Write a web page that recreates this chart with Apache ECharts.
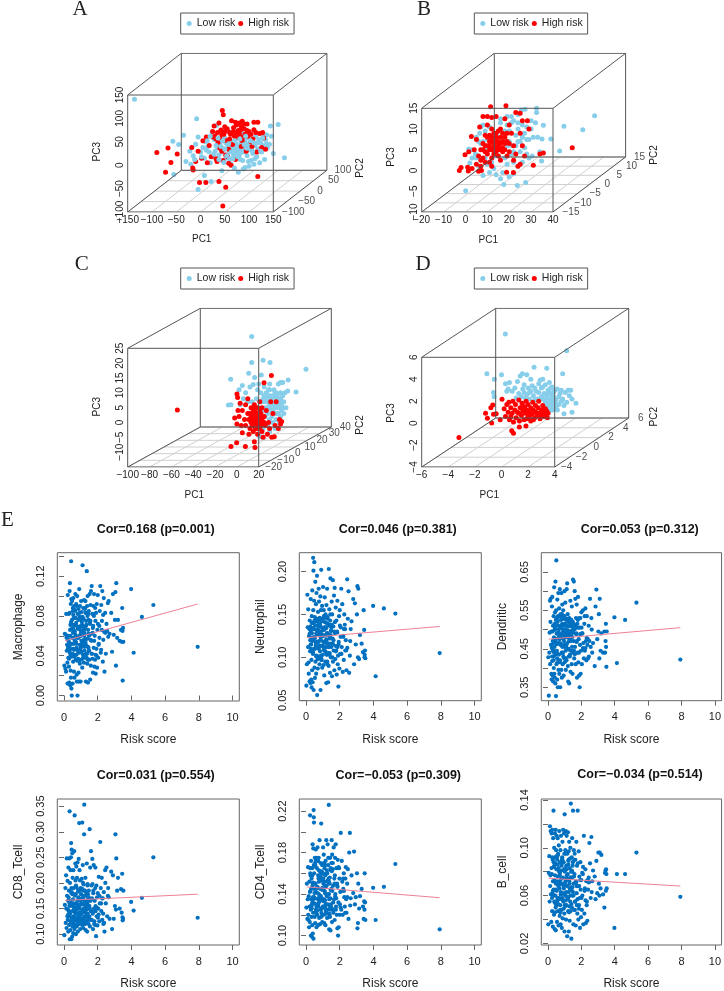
<!DOCTYPE html>
<html><head><meta charset="utf-8">
<style>html,body{margin:0;padding:0;background:#fff}#c{width:724px;height:991px}</style>
<script src="https://cdn.jsdelivr.net/npm/echarts@6/dist/echarts.min.js"></script>
</head><body><div id="c"></div>
<script>
// ---------- risk score (shared by all six lower panels)
const riskScore=[
.02,.05,.08,.1,.12,.13,.15,.16,.18,.2,
.21,.22,.24,.25,.26,.28,.29,.3,.31,.32,
.33,.34,.35,.36,.37,.38,.39,.4,.41,.42,
.43,.44,.45,.46,.47,.48,.49,.5,.51,.52,
.53,.54,.55,.56,.58,.59,.6,.61,.62,.63,
.65,.66,.67,.68,.7,.71,.72,.73,.75,.76,
.77,.78,.8,.81,.82,.83,.85,.86,.87,.88,
.9,.91,.92,.94,.95,.96,.98,.99,1.0,1.01,
1.03,1.04,1.05,1.07,1.08,1.1,1.11,1.12,1.14,1.15,
1.16,1.18,1.19,1.2,1.21,1.23,1.24,1.25,1.27,1.28,
1.3,1.31,1.33,1.34,1.35,1.37,1.38,1.4,1.42,1.43,
1.45,1.47,1.48,1.5,1.52,1.54,1.55,1.57,1.59,1.6,
1.62,1.64,1.66,1.68,1.7,1.72,1.74,1.76,1.78,1.8,
1.82,1.84,1.86,1.88,1.9,1.92,1.94,1.96,1.98,2.0,
2.03,2.06,2.09,2.12,2.15,2.18,2.21,2.24,2.27,2.3,
2.33,2.36,2.4,2.44,2.48,2.52,2.56,2.6,2.65,2.7,
2.8,2.85,2.9,2.95,3.02,3.05,3.08,3.1,3.15,3.2,
3.3,3.38,3.42,3.45,3.47,3.48,3.5,3.52,3.98,4.13,
4.62,5.3,7.93,
.23,.27,.34,.41,.44,.52,.57,.64,.69,.74,
.79,.84,.89,.93,.97,1.02,1.06,1.09,1.13,1.17,
1.22,1.26,1.29,1.32,1.36,1.39,1.41,1.44,1.46,1.49,
.3,.38,.46,.55,.6,.68,.72,.78,.86,.92,
1.0,1.04,1.1,1.18,1.24,1.3,1.35,1.42,1.5,1.56,
1.63,1.71,1.79,1.85,1.93,2.01,2.1,2.2,2.32,2.45,
.25,.33,.42,.5,.58,.66,.74,.82,.9,.98,
1.06,1.14,1.22,1.28,1.38,1.46,1.53,1.61,1.69,1.77,
.37,.47,.54,.62,.7,.76,.84,.94,1.02,1.12,
1.2,1.34,1.44,1.58,1.73,1.87,2.05,2.25,2.38,2.62];
const macrophage=[
.030,.062,.027,.061,.024,.082,.058,.045,.051,.033,
.012,.101,.060,.049,.055,.082,.029,.037,.013,.045,
.105,.083,.113,.066,.010,.071,.025,.092,.018,.135,
.097,.007,.052,.000,.076,.095,.042,.058,.012,.088,
.063,.034,.098,.047,.078,.024,.090,.070,.018,.055,
.041,.085,.102,.061,.036,.071,.092,.052,.021,.014,
.046,.100,.000,.082,.067,.037,.076,.023,.058,.014,
.107,.043,.079,.032,.090,.061,.014,.048,.070,.095,
.055,.036,.084,.071,.028,.131,.064,.041,.088,.052,
.077,.033,.096,.060,.045,.087,.067,.039,.095,.053,
.014,.075,.050,.042,.125,.090,.032,.100,.013,.066,
.048,.085,.060,.036,.102,.072,.016,.091,.030,.105,
.055,.110,.042,.082,.063,.023,.090,.048,.102,.029,
.060,.036,.075,.022,.083,.047,.092,.028,.066,.101,
.038,.052,.070,.085,.110,.043,.091,.066,.105,.034,
.056,.098,.024,.083,.042,.072,.065,.093,.095,.062,
.083,.044,.102,.061,.076,.104,.030,.113,.058,.076,
.055,.066,.054,.088,.065,.015,.068,.054,.107,.043,
.079,.091,.049,
.047,.056,.043,.072,.039,.085,.052,.064,.078,.041,
.058,.069,.035,.083,.047,.060,.074,.054,.038,.066,
.049,.088,.057,.071,.042,.080,.036,.062,.076,.045,
.053,.040,.067,.081,.046,.059,.073,.035,.087,.051,
.064,.044,.079,.056,.038,.070,.083,.049,.061,.075,
.042,.068,.055,.088,.040,.072,.058,.046,.081,.063,
.038,.050,.074,.042,.066,.086,.048,.059,.036,.078,
.052,.069,.041,.083,.057,.045,.073,.062,.037,.080,
.060,.047,.071,.039,.054,.090,.044,.067,.076,.050,
.063,.038,.082,.056,.070,.041,.051,.075,.064,.059];
const neutrophil=[
.067,.092,.173,.135,.112,.156,.094,.081,.125,.133,
.072,.143,.107,.120,.070,.168,.131,.115,.074,.097,
.065,.148,.128,.085,.178,.119,.071,.140,.104,.216,
.155,.201,.062,.133,.110,.166,.211,.088,.124,.147,
.076,.137,.188,.095,.114,.162,.081,.128,.175,.102,
.195,.056,.142,.118,.087,.153,.132,.099,.180,.110,
.165,.126,.092,.146,.138,.107,.171,.062,.121,.155,
.202,.097,.135,.113,.160,.088,.125,.145,.103,.182,
.118,.091,.155,.132,.079,.108,.170,.141,.095,.126,
.150,.112,.134,.070,.161,.103,.128,.180,.092,.145,
.116,.071,.138,.090,.203,.125,.156,.105,.082,.143,
.192,.100,.131,.112,.165,.078,.150,.122,.190,.095,
.136,.108,.172,.085,.181,.128,.098,.158,.113,.143,
.080,.130,.166,.092,.102,.066,.118,.148,.087,.155,
.104,.135,.180,.112,.162,.083,.125,.097,.150,.138,
.108,.120,.085,.191,.145,.177,.082,.102,.133,.142,
.168,.092,.163,.115,.150,.183,.100,.180,.098,.126,
.116,.106,.155,.132,.100,.103,.108,.099,.160,.078,
.157,.151,.105,
.128,.115,.140,.106,.133,.122,.111,.145,.098,.136,
.119,.130,.102,.142,.113,.125,.148,.108,.135,.117,
.140,.095,.128,.112,.137,.104,.122,.150,.116,.131,
.110,.134,.120,.143,.101,.127,.138,.114,.124,.097,
.132,.118,.146,.106,.128,.139,.112,.123,.135,.100,
.120,.141,.108,.129,.115,.137,.104,.124,.133,.111,
.136,.121,.105,.143,.117,.128,.112,.139,.099,.125,
.109,.134,.119,.147,.103,.126,.138,.115,.130,.107,
.123,.140,.110,.132,.118,.101,.144,.127,.113,.135,
.121,.105,.138,.116,.129,.112,.124,.133,.108,.119];
const dendritic=[
.428,.328,.440,.492,.575,.410,.520,.580,.460,.385,
.495,.370,.560,.430,.585,.380,.470,.510,.365,.445,
.420,.535,.400,.480,.610,.385,.455,.500,.375,.545,
.505,.360,.625,.435,.475,.327,.550,.680,.410,.490,
.445,.530,.370,.578,.415,.350,.510,.465,.595,.395,
.500,.435,.555,.385,.475,.605,.420,.350,.540,.460,
.485,.525,.395,.595,.440,.375,.515,.565,.455,.410,
.490,.550,.430,.380,.510,.470,.535,.600,.415,.460,
.500,.570,.445,.395,.525,.480,.420,.605,.510,.620,
.465,.540,.405,.495,.365,.520,.450,.490,.360,.530,
.475,.430,.510,.575,.390,.495,.445,.525,.410,.560,
.480,.385,.515,.630,.440,.470,.625,.425,.500,.600,
.455,.580,.410,.530,.490,.565,.375,.515,.440,.585,
.415,.475,.380,.505,.350,.460,.530,.385,.445,.545,
.410,.490,.550,.465,.425,.515,.445,.555,.470,.420,
.535,.460,.425,.510,.470,.580,.455,.530,.440,.465,
.405,.560,.604,.475,.495,.540,.425,.580,.445,.490,
.440,.495,.440,.470,.515,.455,.403,.495,.532,.413,
.525,.570,.422,
.452,.495,.430,.515,.470,.440,.530,.485,.420,.505,
.462,.540,.438,.500,.478,.515,.425,.490,.528,.450,
.508,.470,.495,.435,.525,.485,.510,.455,.498,.520,
.445,.512,.475,.425,.535,.490,.465,.505,.440,.528,
.482,.515,.458,.498,.430,.520,.472,.508,.492,.445,
.512,.468,.525,.440,.488,.505,.452,.535,.478,.430,
.418,.465,.500,.440,.520,.478,.535,.458,.495,.425,
.510,.485,.448,.522,.470,.498,.515,.436,.488,.505,
.440,.525,.462,.492,.415,.510,.478,.532,.455,.498,
.482,.516,.445,.505,.470,.530,.490,.452,.476,.500];
const cd8Tcell=[
.098,.157,.190,.122,.215,.150,.112,.248,.175,.135,
.204,.128,.165,.105,.230,.145,.185,.118,.248,.155,
.340,.090,.200,.140,.165,.108,.225,.125,.250,.278,
.090,.180,.265,.130,.155,.095,.258,.115,.210,.145,
.168,.102,.225,.135,.190,.120,.262,.150,.110,.332,
.175,.128,.238,.142,.100,.195,.160,.232,.115,.148,
.210,.125,.240,.158,.105,.183,.135,.170,.247,.120,
.317,.150,.225,.130,.205,.110,.165,.190,.138,.178,
.125,.160,.208,.118,.318,.145,.235,.175,.112,.150,
.197,.130,.295,.353,.165,.120,.185,.143,.210,.108,
.155,.125,.180,.140,.238,.105,.160,.198,.132,.172,
.120,.185,.150,.135,.305,.115,.230,.165,.145,.262,
.195,.128,.170,.247,.140,.110,.185,.235,.150,.125,
.165,.118,.230,.145,.096,.195,.135,.172,.117,.180,
.150,.212,.125,.160,.280,.190,.145,.210,.128,.170,
.120,.182,.105,.225,.160,.230,.135,.175,.172,.130,
.222,.110,.215,.130,.155,.295,.148,.248,.185,.210,
.150,.188,.142,.218,.133,.127,.130,.185,.163,.146,
.171,.250,.132,
.148,.172,.135,.160,.190,.125,.155,.143,.178,.130,
.165,.120,.152,.185,.138,.168,.128,.146,.200,.158,
.134,.175,.122,.150,.162,.195,.140,.128,.170,.155,
.145,.125,.182,.160,.135,.205,.150,.118,.172,.142,
.158,.130,.188,.148,.125,.165,.138,.178,.155,.128,
.168,.143,.120,.190,.152,.132,.175,.160,.140,.200,
.138,.160,.122,.178,.148,.130,.192,.155,.127,.168,
.142,.185,.120,.158,.135,.172,.150,.128,.198,.145,
.163,.130,.178,.118,.152,.140,.187,.125,.158,.170,
.135,.148,.165,.128,.180,.155,.138,.170,.122,.190];
const cd4Tcell=[
.127,.150,.116,.135,.166,.120,.115,.138,.108,.152,
.128,.113,.216,.160,.143,.125,.100,.172,.135,.118,
.155,.099,.130,.165,.110,.148,.188,.102,.137,.122,
.184,.097,.221,.214,.209,.160,.131,.145,.118,.175,
.136,.112,.168,.150,.183,.125,.142,.175,.108,.130,
.165,.120,.147,.185,.135,.110,.158,.128,.175,.140,
.152,.117,.192,.133,.162,.111,.145,.170,.125,.138,
.208,.122,.153,.136,.168,.113,.145,.160,.128,.185,
.150,.120,.178,.135,.112,.165,.143,.127,.158,.110,
.172,.130,.148,.192,.122,.160,.138,.117,.152,.188,
.125,.168,.140,.155,.226,.106,.135,.150,.118,.175,
.105,.163,.130,.145,.192,.113,.178,.125,.170,.148,
.122,.185,.135,.155,.115,.175,.140,.188,.128,.165,
.120,.150,.107,.173,.100,.132,.108,.165,.155,.120,
.142,.199,.125,.172,.152,.120,.145,.160,.137,.128,
.155,.166,.122,.150,.164,.116,.180,.199,.136,.158,
.141,.181,.130,.137,.160,.107,.112,.150,.126,.138,
.145,.128,.116,.133,.125,.160,.132,.115,.146,.115,
.147,.169,.106,
.142,.158,.126,.150,.135,.167,.122,.146,.172,.131,
.155,.138,.118,.162,.144,.128,.170,.152,.134,.124,
.148,.160,.130,.175,.140,.120,.156,.136,.165,.127,
.145,.132,.168,.150,.123,.141,.172,.137,.157,.126,
.160,.133,.147,.121,.163,.139,.152,.128,.170,.143,
.125,.158,.136,.148,.166,.130,.143,.155,.122,.137,
.165,.129,.151,.141,.172,.124,.155,.135,.160,.146,
.127,.168,.139,.153,.121,.144,.162,.132,.150,.125,
.158,.137,.170,.128,.146,.163,.134,.119,.155,.141,
.130,.152,.125,.164,.138,.147,.127,.143,.135,.129];
const bCell=[
.036,.079,.093,.055,.118,.068,.077,.114,.061,.038,
.083,.112,.058,.047,.115,.090,.034,.072,.108,.060,
.131,.065,.084,.044,.100,.055,.073,.032,.092,.112,
.046,.087,.060,.115,.031,.070,.098,.052,.082,.110,
.064,.038,.090,.056,.108,.076,.047,.095,.068,.035,
.102,.058,.080,.114,.043,.072,.088,.052,.098,.036,
.063,.110,.048,.085,.070,.033,.092,.058,.105,.041,
.075,.115,.055,.088,.066,.112,.045,.030,.128,.080,
.060,.098,.072,.114,.040,.085,.052,.110,.068,.026,
.095,.057,.078,.113,.047,.090,.063,.030,.105,.072,
.039,.083,.055,.100,.066,.137,.075,.024,.092,.050,
.108,.060,.085,.131,.036,.070,.098,.048,.078,.095,
.055,.090,.035,.072,.105,.062,.085,.045,.131,.068,
.040,.097,.052,.076,.058,.033,.088,.065,.042,.073,
.048,.060,.078,.036,.110,.045,.066,.082,.037,.072,
.055,.039,.065,.075,.104,.087,.058,.109,.072,.081,
.076,.057,.089,.062,.096,.070,.060,.096,.066,.094,
.061,.050,.079,.081,.064,.082,.078,.066,.033,.078,
.078,.096,.059,
.078,.062,.088,.054,.071,.093,.058,.083,.066,.048,
.074,.090,.056,.068,.082,.051,.095,.063,.077,.059,
.086,.046,.070,.091,.060,.080,.053,.075,.067,.088,
.064,.085,.050,.072,.094,.057,.079,.061,.090,.069,
.052,.083,.074,.059,.097,.066,.047,.081,.063,.076,
.055,.068,.087,.049,.073,.058,.084,.064,.052,.071,
.092,.060,.077,.054,.086,.069,.046,.081,.062,.095,
.056,.074,.089,.051,.067,.080,.060,.048,.071,.057,
.084,.065,.092,.053,.077,.061,.087,.049,.070,.082,
.058,.075,.064,.090,.052,.068,.079,.056,.073,.063];
// fit lines: value at the smallest and at the largest risk score
const fitEnds=[.05,7.93];
const fitMacrophage=[.055,.092], fitNeutrophil=[.123,.136], fitDendritic=[.475,.505];
const fitCd8=[.166,.178], fitCd4=[.147,.1365], fitB=[.0745,.068];
// axis ticks
const riskTicks=[0,2,4,6,8,10];
const ticksMac=[0,.02,.04,.06,.08,.10,.12,.14], labelsMac=[0,.04,.08,.12];
const ticksNeu=[.05,.10,.15,.20];
const ticksDen=[.35,.40,.45,.50,.55,.60,.65], labelsDen=[.35,.45,.55,.65];
const ticksCd8=[.10,.15,.20,.25,.30,.35];
const ticksCd4=[.10,.12,.14,.16,.18,.20,.22], labelsCd4=[.10,.14,.18,.22];
const ticksB=[.02,.04,.06,.08,.10,.12,.14], labelsB=[.02,.06,.10,.14];

// ---------- PCA panels: [PC1, PC3] as seen projected on the front face scale
const lowA=[[-136,141],[-8,99],[160,87],[144,84],[173,16],[-57,51],[-35,64],[-55,-20],[-5,-52],[22,-35],[8,-22],[150,25],[-45,44],[-22,30],[-15,20],[-30,8],[-20,2],[0,28],[8,15],[15,40],[20,5],[28,55],[24,70],[33,85],[38,22],[40,48],[44,-12],[48,35],[50,58],[52,15],[56,42],[58,72],[60,30],[62,3],[66,50],[68,22],[70,38],[72,60],[75,45],[78,-15],[80,32],[82,12],[84,50],[86,68],[88,28],[90,40],[92,-5],[95,58],[96,20],[98,45],[100,33],[102,65],[104,10],[106,52],[108,25],[110,2],[112,42],[114,62],[116,18],[118,35],[120,55],[122,5],[124,48],[126,28],[128,68],[130,42],[132,12],[134,55],[136,65],[138,38],[142,45],[146,62],[30,30],[35,38],[45,28],[55,22],[65,35],[75,25],[85,35],[95,30],[52,48],[62,40],[72,30],[82,42],[92,50],[105,38],[25,18],[10,50],[5,38],[-5,60],[-10,45],[60,48],[70,44],[80,22],[78,38]];
// low risk points that lie over the high risk points in panel A
const lowATop=[[42,40],[46,52],[50,34],[54,20],[58,46],[63,28],[67,14],[71,52],[74,36],[77,18],[81,56],[84,28],[87,10],[90,44],[93,62],[96,36],[99,8],[103,52],[107,30],[110,48],[36,58],[32,42],[28,24],[38,12],[48,6],[60,14],[70,-6],[88,-8],[100,-2],[112,14],[18,28],[14,52],[2,18],[-12,12],[118,48],[124,30],[128,58],[136,46],[20,62],[12,32]];
const highA=[[45,117],[47,108],[-90,27],[-67,37],[-48,24],[-61,6],[-72,-15],[-2,-37],[11,-37],[38,-35],[52,-47],[46,-87],[118,-24],[-15,-10],[-16,-6],[63,0],[-10,8],[-5,30],[-18,38],[2,15],[5,52],[12,60],[14,5],[18,42],[22,18],[25,72],[28,84],[30,62],[34,8],[36,48],[38,90],[42,75],[44,30],[46,10],[48,66],[50,82],[54,52],[56,18],[58,4],[60,70],[64,95],[66,44],[68,80],[72,12],[74,86],[76,58],[78,74],[80,90],[84,40],[86,94],[88,60],[90,78],[94,30],[96,88],[100,72],[104,50],[106,40],[110,92],[114,70],[118,92],[122,68],[126,38],[130,58],[134,34],[128,70],[116,28],[108,56],[98,62],[70,62],[52,22],[40,36],[32,14],[58,34],[82,74],[92,66],
[55,78],[62,66],[68,72],[74,70],[80,66],[84,82],[90,88],[96,74],[72,92],[76,88],[44,66],[50,72],[35,70],[32,56],[26,60],[104,66],[110,76],[40,58],[60,56],[86,52]];
const lowB=[[59,13.2],[45,10.7],[53.6,9.8],[39,7.6],[43,4.7],[34.8,2.3],[.1,-4.9],[27.5,-2.9],[23.7,-3.6],[17.5,-3.4],[32.5,15],[32.5,14],[27.2,14.8],[25.5,14.6],[35.6,10.9],[30,12],[32,11.5],[31,8],[29,7.5],[33,8],[35,7.6],[34,4.5],[30.5,3.5],[28,4],[26,2],[24,1],[22,-.8],[20,-1.5],[16,-2],[14,-1],[11,-.5],[8,-1.2],[6,1],[2,1.8],[3,5],[1.5,5.2],[4.5,4],[5,8],[6.5,9],[7,6.5],[8,11],[9,3],[10,7.5],[11,10.5],[12,2],[13,6],[14,9],[15,3.5],[16,11.5],[17,5],[18,7.5],[19,1.5],[20,9.5],[21,4],[22,12],[23,6],[24,10],[25,4.5],[26,8],[27,5.5],[28,10.5],[29,3],[24,13.5],[21,13],[19,11],[13,3.5],[15,5.5],[17,7],[19,6],[16,8],[12,8],[10,5],[8,7],[14,6.5],[22,2],[26,11],
[18,9.5],[20,7],[23,8.5],[25,7],[27,9],[21,11.5],[24,11.5],[9,9.5],[7,10.5],[6,7],[10,1.5],[13,.5],[17,-.5],[21,6],[26,6],[28,7.5],[5,3],[3,3],[16,12.5],[19,13],[12,5],[15,8],[18,3],[30,10],[22,4.5],[24,7]];
const highB=[[48.8,5.5],[11.5,15.4],[18.5,15.6],[31,1.3],[-2.8,0],[-2,.7],[1.3,-.1],[7.3,0],[18.8,-.4],[21.9,-.5],[2.7,8.2],[-.2,3.8],[35.6,4.2],[34,4],[28.3,12],[25,13.8],[23,14],[1.5,4.5],[1,.8],[3,.5],[5,1.5],[6,-.2],[7,1],[8,13],[10,13],[12,12.8],[6.5,10.5],[5,7.5],[4,5],[7,5],[8,3],[9,8.5],[10,11],[11,6],[12,3],[13,9],[14,13],[14,4.5],[15,7],[16,10],[16,2.5],[17,5.5],[18,12.5],[18,8],[19,3.5],[20,6.5],[20,11],[21,9],[22,2.5],[22,6],[23,4],[24,1],[25,9],[26,6],[26,12],[27,3.5],[29,10],[12,7],[13,5.5],[10,6],[15,5],[11,8.5],[14,8],[17,7],[16,5],[19,9],[12,10],[9,4.5],[18,5],[13,7],[25,1.5],[11,2],[15,9.5],[8,6.5],
[10,4],[11,5],[12,5],[13,6.5],[14,7],[15,6],[16,6.5],[17,4.5],[18,6.5],[12,8],[14,9],[16,8],[9,6],[8,5],[19,7],[13,4],[15,3.5],[17,9],[11,7],[14,5.5],[10,8],[20,4.5],[7,2.5],[9,2],[12,1],[6,3.5]];
const lowC=[[13.6,29],[24,21],[13.6,20.2],[30.4,20.2],[63.3,17.9],[10.8,16.6],[-5.7,14.6],[16.3,15.2],[54.2,10.3],[46.5,10.6],[46.9,14.3],[-7.8,5.9],[-5.4,6],[22.4,16],[21,-4.8],[38,13],[40,13.5],[42,13.5],[5,12.5],[12,12],[2,11],[8,10],[15,12.8],[20,13],[25,12],[30,13],[34,11],[37,9],[40,8],[43,7],[45,5],[41,4],[38,3],[34,6],[30,9],[26,7],[22,10],[18,8],[14,7],[10,7],[6,8],[3,6],[16,5],[20,5],[24,4],[28,3],[32,2],[36,1],[40,2],[43,3],[30,6],[33,4],[37,5],[26,2],[22,1],[28,-1],[24,-2],[30,-3],[35,-2],[33,0],[29,11],[35,8],[27,10],[31,5],[38,6],[42,9],[23,7],[19,11],[36,10],[40,10],[25,9],[32,7],[44,10],[28,5],[34,3],[39,0],[20,-4],[24,-5],[30,1],[26,5],[37,3],[21,3],
[33,9],[35,10],[37,7],[39,7],[41,6],[31,8],[29,7],[27,8],[35,5],[36,3],[32,4],[38,8],[34,8],[30,11],[28,9],[40,5],[42,5],[24,8],[22,7],[26,9]];
const highC=[[-54.5,4.2],[31.6,15.8],[24.9,13.4],[-5.4,-8.1],[-.2,-6.8],[7.8,-8.1],[16.6,-8.4],[16,-6.5],[.1,9.6],[.7,8.4],[41,.3],[34.3,-4.8],[3,6.5],[-2,1.5],[0,-.5],[1,4],[2,2],[4,-1],[5,4],[5,-3.5],[7,1],[8,6],[8,-1],[10,8],[10,3],[11,-4],[12,1],[12,-2],[13,5],[14,-1],[14,3],[15,2],[15,-3],[16,6],[16,0],[17,-2],[17,3],[18,1],[18,-1],[19,5],[19,-4],[20,2],[20,0],[21,-2],[21,7],[22,3],[22,1],[23,-3],[23,5],[24,0],[24,-5],[25,2],[26,-1],[27,4],[28,-4],[29,0],[30,-2],[31,7],[32,-5],[33,3],[35,-1],[36,7],[38,-2],[39,1],[40,-.5],[17,0],[19,2],[16,4],[20,-1],[13,0],
[14,1],[15,0],[16,2],[17,1],[18,3],[18,-2],[19,0],[20,1],[21,0],[22,-1],[13,2],[12,3],[21,4],[23,1],[25,0],[15,4],[17,5],[19,3],[23,2],[11,1]];
const lowD=[[.29,8.13],[4.9,6.6],[4.6,4.5],[-1.1,4.5],[2.45,5.1],[3.4,5],[-.54,4],[0,4.4],[5.6,1.8],[5.3,1],[4.7,.86],[-.6,2.8],[-.55,2.4],[1.57,4.5],[1.4,4.3],[1.9,4.4],[2.2,4],[.5,3.1],[.3,3.6],[.6,3.7],[.8,2.9],[1,3.2],[1.2,3.8],[1.3,2.7],[1.5,2.4],[1.6,3.1],[1.7,3.5],[1.9,2.6],[2,3.2],[2.1,2.2],[2.2,2.9],[2.3,3.4],[2.4,2.5],[2.6,2.9],[2.7,2.2],[2.8,3.6],[2.9,3.9],[3,2.4],[3,3.2],[3.1,4],[3.2,2.7],[3.3,1.9],[3.3,3.5],[3.4,2.3],[3.5,3],[3.5,1.5],[3.6,3.7],[3.6,2],[3.7,1.2],[3.7,2.6],[3.8,3.3],[3.8,1.8],[3.9,2.4],[4,1.3],[4,3],[4.1,2.1],[4.2,3.1],[4.3,1.7],[4.4,2.7],[4.5,3],[4.6,2.2],[4.7,1.6],[4.8,2.8],[4.9,1.9],[5,3],[5.1,2.5],[5.2,3],[5.3,2.2],[3.5,2.7],[3.7,3.2],[3.2,1.4],[3.9,1.5],[3.4,1.2],[2.5,2.1],[1.8,2.3],[1.1,2.3],[.4,2.9],
[3.4,1.8],[3.6,1.5],[3.8,2.2],[3.5,2.2],[3.7,1.7],[3.6,2.8],[3.9,2.8],[4,1.8],[4.1,1.5],[3.8,1.2],[3.3,2.6],[3.1,3.3],[2.8,2.8],[2.5,3.2],[2.1,2.8],[1.7,2.8],[4.3,2.4],[4.5,2],[4.2,1.2],[3.1,2.2]];
const highD=[[-3.2,-1.3],[-1.2,.9],[-1.06,.44],[-.74,0],[.9,-.93],[.77,-.7],[1.84,-.26],[1.34,-.35],[.04,2.17],[-.66,1.65],[-.8,1.4],[-.1,.3],[-.6,.8],[-.4,.85],[.2,1.3],[.3,.6],[.4,1.7],[.5,1],[.55,1.9],[.6,.3],[.7,1.4],[.8,.9],[.85,2],[.9,.1],[1,1.2],[1.05,1.7],[1.1,.5],[1.2,1],[1.3,2.1],[1.35,.2],[1.4,1.4],[1.5,.7],[1.55,1.8],[1.6,1.1],[1.7,.3],[1.75,1.5],[1.8,.9],[1.85,2],[1.9,1.2],[2,.6],[2,1.7],[2.1,1],[2.2,.2],[2.2,1.4],[2.3,.8],[2.35,1.9],[2.4,1.2],[2.5,.5],[2.55,1.6],[2.6,1],[2.7,.7],[2.75,1.4],[2.8,2],[2.85,.9],[2.9,.4],[3,1.2],[3,.7],[3.1,1.6],[3.2,1],[3.2,.6],[3.3,1.3],[3.35,.8],[3.4,1.1],[3.45,.5],[1.3,.9],[1.9,.4],[.7,.6],[2.4,.3],[2.1,.6],[1.6,1.5],[3.5,.9]];
const riskNames=['Low risk','High risk'];

// ---------- layout
const FONT='"Liberation Sans",Arial,sans-serif', INK='#222', BOX='#555';
const pca=[
 {low:lowA,lowTop:lowATop,high:highA,letter:'A',lx:80,ly:9,legendX:180.7,legendY:13,
  x:[-150,-100,-50,0,50,100,150],y:[-100,-50,0,50,100],z:[-100,-50,0,50,100,150],
  fl:127.7,fr:273.3,ft:95,fb:212,bl:181.3,bt:53.3,yOff:20,yOffLast:16,
  pc1:[201.7,239.3],pc3:[97.7,151.7],pc2:[360.7,168]},
 {low:lowB,high:highB,letter:'B',lx:424,ly:9,legendX:474.3,legendY:13,
  x:[-20,-10,0,10,20,30,40],y:[-15,-10,-5,0,5,10,15],z:[-10,-5,0,5,10,15],
  fl:421.7,fr:553,ft:108.3,fb:212,bl:494.3,bt:53.3,yOff:18,yOffLast:14,
  pc1:[488.3,240],pc3:[391,157],pc2:[654.3,155]},
 {low:lowC,high:highC,letter:'C',lx:81.7,ly:264,legendX:180.7,legendY:268,
  x:[-100,-80,-60,-40,-20,0,20],y:[-20,-10,0,10,20,30,40],z:[-15,-10,-5,0,5,10,15,20,25],
  fl:127.7,fr:258.7,ft:348.3,fb:467,bl:200.3,bt:308.3,yOff:15,yOffLast:14,
  pc1:[194.3,495],pc3:[97.7,406.7],pc2:[360.7,425]},
 {low:lowD,high:highD,letter:'D',lx:423,ly:264,legendX:474.3,legendY:268,
  x:[-6,-4,-2,0,2,4],y:[-4,-2,0,2,4,6],z:[-4,-2,0,2,4,6],
  fl:421.7,fr:554.7,ft:357.3,fb:467,bl:495.7,bt:308.3,yOff:12,yOffLast:12,
  pc1:[489.3,495],pc3:[391,413],pc2:[654.3,416.7]}];
const scat=[
 {y:macrophage,fit:fitMacrophage,name:'Macrophage',title:'Cor=0.168 (p=0.001)',ticks:ticksMac,labels:labelsMac,lim:[-.0055,.1436],l:57.3,t:552.7,h:148.3,tx:155.7,ty:530},
 {y:neutrophil,fit:fitNeutrophil,name:'Neutrophil',title:'Cor=0.046 (p=0.381)',ticks:ticksNeu,labels:ticksNeu,lim:[.0495,.222],l:299.3,t:552.7,h:148,tx:397.7,ty:530},
 {y:dendritic,fit:fitDendritic,name:'Dendritic',title:'Cor=0.053 (p=0.312)',ticks:ticksDen,labels:labelsDen,lim:[.315,.70],l:541.3,t:552.7,h:148,tx:639.7,ty:530},
 {y:cd8Tcell,fit:fitCd8,name:'CD8_Tcell',title:'Cor=0.031 (p=0.554)',ticks:ticksCd8,labels:ticksCd8,lim:[.0788,.364],l:57.3,t:799,h:148.3,tx:155.7,ty:776},
 {y:cd4Tcell,fit:fitCd4,name:'CD4_Tcell',title:'Cor=\u22120.053 (p=0.309)',ticks:ticksCd4,labels:labelsCd4,lim:[.0909,.2317],l:299.3,t:799,h:148.3,tx:398.3,ty:776},
 {y:bCell,fit:fitB,name:'B_cell',title:'Cor=\u22120.034 (p=0.514)',ticks:ticksB,labels:labelsB,lim:[.0187,.1408],l:541.3,t:799,h:148.3,tx:640,ty:775}];

const minus=v=>String(v).replace('-','\u2212');
const grids=[],xAxes=[],yAxes=[],series=[],legends=[],titles=[],texts=[];
const text=(t,x,y,size,rot,font)=>texts.push({type:'text',x:x,y:y,rotation:rot?Math.PI/2:0,
  style:{text:t,fill:INK,font:size+'px '+(font||FONT),textAlign:'center',textVerticalAlign:'middle'}});

pca.forEach((p,i)=>{
  const xr=p.x[p.x.length-1]-p.x[0], zr=p.z[p.z.length-1]-p.z[0], yr=p.y[p.y.length-1]-p.y[0];
  const x0=p.x[0], z0=p.z[0], x1=x0+xr, z1=z0+zr;
  const ux=xr/(p.fr-p.fl), uz=zr/(p.fb-p.ft);
  const dx=(p.bl-p.fl)*ux, dz=(p.ft-p.bt)*uz;
  grids.push({left:p.fl,top:p.bt,width:p.fr-p.fl+p.bl-p.fl,height:p.fb-p.bt,show:false});
  xAxes.push({type:'value',gridIndex:i,min:x0,max:x1+dx,axisLine:{show:false},axisTick:{show:false},splitLine:{show:false},
    axisLabel:{customValues:p.x,formatter:minus,fontSize:10,fontFamily:FONT,color:INK,margin:3}});
  yAxes.push({type:'value',gridIndex:i,min:z0,max:z1+dz,axisLine:{show:false},axisTick:{show:false},splitLine:{show:false},
    axisLabel:{customValues:p.z,formatter:minus,rotate:90,fontSize:10,fontFamily:FONT,color:INK,margin:2}});
  const floor=[];
  p.x.forEach(v=>floor.push([v,z0],[v+dx,z0+dz],['-','-']));
  p.y.forEach(v=>{const t=(v-p.y[0])/yr;floor.push([x0+t*dx,z0+t*dz],[x1+t*dx,z0+t*dz],['-','-']);});
  const line=(data,color,z)=>({type:'line',xAxisIndex:i,yAxisIndex:i,data:data,symbol:'none',silent:true,z:z,
     lineStyle:{color:color,width:1},connectNulls:false,animation:false});
  series.push(line(floor,'#d0d0d0',1));
  series.push({type:'scatter',name:riskNames[0],xAxisIndex:i,yAxisIndex:i,data:p.low,symbolSize:5,itemStyle:{color:'#87CEEB',opacity:1},z:2});
  series.push({type:'scatter',name:riskNames[1],xAxisIndex:i,yAxisIndex:i,data:p.high,symbolSize:5,itemStyle:{color:'#FF0000',opacity:1},z:3});
  if(p.lowTop) series.push({type:'scatter',name:riskNames[0],xAxisIndex:i,yAxisIndex:i,data:p.lowTop,symbolSize:5,itemStyle:{color:'#87CEEB',opacity:1},z:3.5});
  const box=[[x0,z0],[x1,z0],[x1,z1],[x0,z1],[x0,z0],['-','-'],
    [x0+dx,z0+dz],[x1+dx,z0+dz],[x1+dx,z1+dz],[x0+dx,z1+dz],[x0+dx,z0+dz],['-','-'],
    [x0,z0],[x0+dx,z0+dz],['-','-'],[x1,z0],[x1+dx,z0+dz],['-','-'],
    [x1,z1],[x1+dx,z1+dz],['-','-'],[x0,z1],[x0+dx,z1+dz]];
  series.push(line(box,BOX,4));
  series.push({type:'scatter',xAxisIndex:i,yAxisIndex:i,silent:true,symbolSize:0,z:4,
    data:p.y.map((v,j)=>{const t=(v-p.y[0])/yr;return {value:[x1+t*dx,z0+t*dz],tick:v,
      label:{offset:[j===p.y.length-1?p.yOffLast:p.yOff,0]}};}),
    label:{show:true,position:'inside',fontSize:10,fontFamily:FONT,color:INK,align:'center',verticalAlign:'middle',
      formatter:o=>minus(o.data.tick)}});
  legends.push({data:riskNames.map(n=>({name:n,icon:'circle'})),left:p.legendX,top:p.legendY,orient:'horizontal',
    itemWidth:5,itemHeight:5,itemGap:3,padding:[5,5,5,6],borderColor:'#555',borderWidth:1,selectedMode:false,
    textStyle:{fontSize:10.5,fontFamily:FONT,color:INK}});
  text(p.letter,p.lx,p.ly,21,false,'"Liberation Serif",serif');
  text('PC1',p.pc1[0],p.pc1[1],10);
  text('PC3',p.pc3[0],p.pc3[1],10,true);
  text('PC2',p.pc2[0],p.pc2[1],10,true);
});
text('E',7.3,520,21,false,'"Liberation Serif",serif');

scat.forEach((s,k)=>{
  const i=k+pca.length;
  grids.push({left:s.l,top:s.t,width:182,height:s.h,show:true,borderColor:'#666',borderWidth:1,backgroundColor:'transparent'});
  xAxes.push({type:'value',gridIndex:i,min:-.4,max:10.4,name:'Risk score',nameLocation:'middle',nameGap:39,nameMoveOverlap:false,
    nameTextStyle:{fontSize:12,fontFamily:FONT,color:INK,verticalAlign:'middle'},splitLine:{show:false},axisLine:{show:false},
    axisTick:{customValues:riskTicks,length:5,lineStyle:{color:'#666'}},
    axisLabel:{customValues:riskTicks,fontSize:11,fontFamily:FONT,color:INK,margin:11}});
  yAxes.push({type:'value',gridIndex:i,min:s.lim[0],max:s.lim[1],name:s.name,nameLocation:'middle',nameGap:39,nameMoveOverlap:false,
    nameTextStyle:{fontSize:12,fontFamily:FONT,color:INK,verticalAlign:'middle'},splitLine:{show:false},axisLine:{show:false},
    axisTick:{customValues:s.ticks,length:5,lineStyle:{color:'#666'}},
    axisLabel:{customValues:s.labels,rotate:90,formatter:v=>v.toFixed(2),fontSize:11,fontFamily:FONT,color:INK,margin:11}});
  series.push({type:'scatter',xAxisIndex:i,yAxisIndex:i,data:riskScore.map((x,j)=>[x,s.y[j]]),symbolSize:4.2,itemStyle:{color:'#0070C0',opacity:1},z:2});
  series.push({type:'line',xAxisIndex:i,yAxisIndex:i,data:fitEnds.map((x,j)=>[x,s.fit[j]]),symbol:'none',silent:true,z:3,
    lineStyle:{color:'#EE8096',width:1}});
  titles.push({text:s.title,left:s.tx,top:s.ty-7,textAlign:'center',padding:0,
    textStyle:{fontSize:12.5,fontWeight:'bold',fontFamily:FONT,color:'#111',lineHeight:14}});
});

const chart=echarts.init(document.getElementById('c'),null,{renderer:'canvas',width:724,height:991});
chart.setOption({animation:false,backgroundColor:'#fff',title:titles,legend:legends,grid:grids,xAxis:xAxes,yAxis:yAxes,series:series,graphic:texts,tooltip:{show:false}});
</script></body></html>
